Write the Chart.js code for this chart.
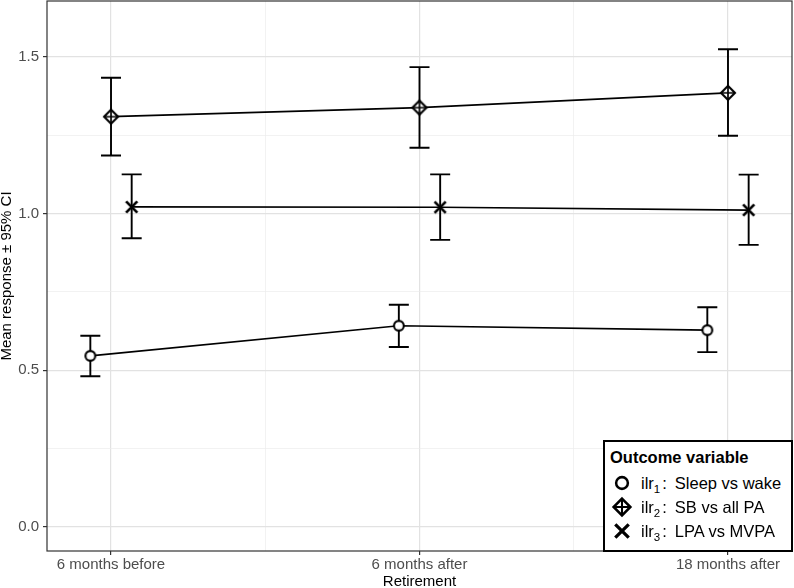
<!DOCTYPE html>
<html><head><meta charset="utf-8">
<script src="https://cdn.jsdelivr.net/npm/chart.js@4.4.1/dist/chart.umd.min.js"></script>
<style>
html,body{margin:0;padding:0;background:#fff;}
#wrap{position:relative;width:794px;height:588px;}
#legend{position:absolute;left:603px;top:440px;width:190px;height:112px;box-sizing:border-box;border:2px solid #000;background:#fff;font-family:"Liberation Sans",Arial,sans-serif;color:#000;}
#legend .title{position:absolute;left:5px;top:5px;font-weight:bold;font-size:16.5px;line-height:20px;white-space:nowrap;}
#legend .row{position:absolute;left:0;height:24px;width:100%;}
#legend .row canvas{position:absolute;}
#legend .lab{position:absolute;left:36px;top:0;font-size:16.5px;line-height:24px;white-space:nowrap;}
#legend sub{font-size:11.5px;vertical-align:baseline;position:relative;top:4px;line-height:0;}
</style></head>
<body><div id="wrap"><canvas id="c" width="794" height="588"></canvas><div id="legend"></div></div>
<script>
// ---- data ----
const categories = ['6 months before', '6 months after', '18 months after'];
const yTickLabels = ['0.0', '0.5', '1.0', '1.5'];
const yTickValues = [0, 0.5, 1.0, 1.5];

const ilr1Mean = [0.546, 0.642, 0.628];
const ilr1Low  = [0.481, 0.574, 0.558];
const ilr1High = [0.610, 0.709, 0.701];

const ilr2Mean = [1.309, 1.338, 1.385];
const ilr2Low  = [1.185, 1.210, 1.248];
const ilr2High = [1.433, 1.467, 1.524];

const ilr3Mean = [1.021, 1.020, 1.011];
const ilr3Low  = [0.921, 0.916, 0.900];
const ilr3High = [1.125, 1.125, 1.124];

const seriesSub  = ['1', '2', '3'];
const seriesDesc = ['Sleep vs wake', 'SB vs all PA', 'LPA vs MVPA'];
const legendTitle = 'Outcome variable';
const xTitle = 'Retirement';
const yTitle = 'Mean response \u00B1 95% CI';

// ---- styling / layout ----
const FONT = '"Liberation Sans", Arial, sans-serif';
const dodge = [-0.067, 0, 0.067];
const kinds = ['circle', 'diamondPlus', 'cross'];

function makeMarker(kind, s) {
  const size = Math.round(26 * s / 2) * 2;
  const c = document.createElement('canvas');
  c.width = size; c.height = size;
  const g = c.getContext('2d');
  const cx = size / 2, cy = size / 2;
  g.strokeStyle = '#000'; g.fillStyle = '#fff';
  if (kind === 'circle') {
    g.lineWidth = 2.1 * s;
    g.beginPath(); g.arc(cx, cy, 4.9 * s, 0, Math.PI * 2); g.fill(); g.stroke();
  } else if (kind === 'diamondPlus') {
    const h = 7.0 * s;
    g.lineWidth = 2.1 * s;
    g.beginPath(); g.moveTo(cx, cy - h); g.lineTo(cx + h, cy); g.lineTo(cx, cy + h); g.lineTo(cx - h, cy); g.closePath();
    g.fill(); g.stroke();
    g.lineWidth = 1.7 * s;
    g.beginPath(); g.moveTo(cx, cy - h); g.lineTo(cx, cy + h); g.moveTo(cx - h, cy); g.lineTo(cx + h, cy); g.stroke();
  } else {
    const h = 5.6 * s;
    g.lineWidth = 2.7 * s;
    g.beginPath(); g.moveTo(cx - h, cy - h); g.lineTo(cx + h, cy + h); g.moveTo(cx + h, cy - h); g.lineTo(cx - h, cy + h); g.stroke();
  }
  return c;
}

const means = [ilr1Mean, ilr2Mean, ilr3Mean];
const lows = [ilr1Low, ilr2Low, ilr3Low];
const highs = [ilr1High, ilr2High, ilr3High];

const datasets = means.map((m, d) => ({
  label: 'ilr' + seriesSub[d] + ': ' + seriesDesc[d],
  data: m.map((v, i) => ({ x: i + 1 + dodge[d], y: v })),
  errLo: lows[d], errHi: highs[d],
  borderColor: '#000', borderWidth: 1.7, backgroundColor: '#fff',
  pointStyle: makeMarker(kinds[d], 1), pointRadius: 6, pointHoverRadius: 6,
  tension: 0, fill: false
}));

const xGrid = [1, 1.5, 2, 2.5, 3];
const yGrid = [0, 0.25, 0.5, 0.75, 1.0, 1.25, 1.5];
const isMajX = v => Math.abs(v - Math.round(v)) < 1e-6;
const isMajY = v => yTickValues.some(t => Math.abs(t - v) < 1e-6);

const panelBorder = {
  id: 'panelBorder',
  beforeDatasetsDraw(chart) {
    const { ctx, chartArea: a } = chart;
    ctx.save(); ctx.strokeStyle = '#333'; ctx.lineWidth = 1.2;
    ctx.strokeRect(a.left, a.top, a.right - a.left, a.bottom - a.top);
    ctx.restore();
  }
};
const errorBars = {
  id: 'errorBars',
  beforeDatasetsDraw(chart) {
    const { ctx } = chart; const ys = chart.scales.y;
    ctx.save(); ctx.strokeStyle = '#000'; ctx.lineWidth = 1.9; ctx.lineCap = 'butt';
    chart.data.datasets.forEach((ds, d) => {
      const meta = chart.getDatasetMeta(d);
      meta.data.forEach((pt, i) => {
        const x = pt.x, y1 = ys.getPixelForValue(ds.errLo[i]), y2 = ys.getPixelForValue(ds.errHi[i]);
        ctx.beginPath();
        ctx.moveTo(x, y1); ctx.lineTo(x, y2);
        ctx.moveTo(x - 10, y1); ctx.lineTo(x + 10, y1);
        ctx.moveTo(x - 10, y2); ctx.lineTo(x + 10, y2);
        ctx.stroke();
      });
    });
    ctx.restore();
  }
};

Chart.defaults.font.family = FONT;
new Chart(document.getElementById('c'), {
  type: 'line',
  data: { datasets },
  plugins: [panelBorder, errorBars],
  options: {
    responsive: false, animation: false,
    layout: { autoPadding: false, padding: { top: 1, right: 2, left: 0, bottom: 0 } },
    plugins: { legend: { display: false }, tooltip: { enabled: false } },
    scales: {
      x: {
        type: 'linear', min: 0.7925, max: 3.2075,
        afterBuildTicks: ax => { ax.ticks = xGrid.map(v => ({ value: v })); },
        afterFit: ax => { ax.height = 37; ax.paddingLeft = 0; ax.paddingRight = 0; },
        border: { display: false },
        grid: {
          color: c => (c.tick && isMajX(c.tick.value)) ? '#e2e2e2' : '#ededed',
          lineWidth: c => (c.tick && isMajX(c.tick.value)) ? 1.2 : 0.7,
          tickColor: c => (c.tick && isMajX(c.tick.value)) ? '#333' : 'rgba(0,0,0,0)',
          tickLength: 4, tickWidth: 1.2, drawTicks: true
        },
        ticks: {
          autoSkip: false, maxRotation: 0, padding: 1, color: '#4d4d4d', font: { size: 15 },
          callback: v => isMajX(v) ? categories[Math.round(v) - 1] : ''
        },
        title: { display: true, text: xTitle, color: '#000', font: { size: 15, lineHeight: 0.8 }, padding: { top: 0, bottom: 0 } }
      },
      y: {
        type: 'linear', min: -0.0766, max: 1.678,
        afterBuildTicks: ax => { ax.ticks = yGrid.map(v => ({ value: v })); },
        afterFit: ax => { ax.width = 47; ax.paddingTop = 0; ax.paddingBottom = 0; },
        border: { display: false },
        grid: {
          color: c => (c.tick && isMajY(c.tick.value)) ? '#e2e2e2' : '#ededed',
          lineWidth: c => (c.tick && isMajY(c.tick.value)) ? 1.2 : 0.7,
          tickColor: c => (c.tick && isMajY(c.tick.value)) ? '#333' : 'rgba(0,0,0,0)',
          tickLength: 4, tickWidth: 1.2, drawTicks: true
        },
        ticks: {
          autoSkip: false, padding: 4, color: '#4d4d4d', font: { size: 15 },
          callback: v => { const k = yTickValues.findIndex(t => Math.abs(t - v) < 1e-6); return k >= 0 ? yTickLabels[k] : ''; }
        },
        title: { display: true, text: yTitle, color: '#000', font: { size: 15, lineHeight: 0.8 }, padding: { top: 0.5, bottom: 0 } }
      }
    }
  }
});

// ---- legend (HTML text) ----
const lg = document.getElementById('legend');
const t = document.createElement('div'); t.className = 'title'; t.textContent = legendTitle; lg.appendChild(t);
const rowTops = [28.7, 52.7, 77.2];
seriesDesc.forEach((desc, d) => {
  const row = document.createElement('div'); row.className = 'row'; row.style.top = rowTops[d] + 'px';
  const mk = makeMarker(kinds[d], 1.2);
  mk.style.left = (17 - mk.width / 2) + 'px'; mk.style.top = (12 - mk.height / 2) + 'px';
  row.appendChild(mk);
  const lab = document.createElement('div'); lab.className = 'lab';
  lab.innerHTML = 'ilr<sub>' + seriesSub[d] + '</sub><span style="margin-left:2px">:</span><span style="margin-left:8px">' + desc + '</span>';
  row.appendChild(lab);
  lg.appendChild(row);
});
</script>
</body></html>
